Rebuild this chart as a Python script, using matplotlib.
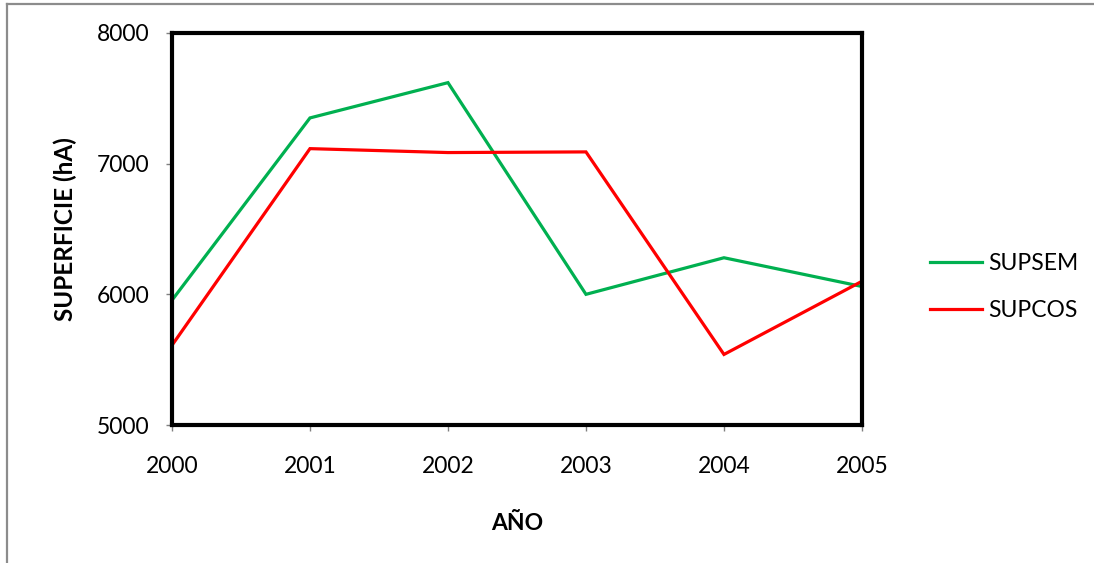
import matplotlib
matplotlib.use("Agg")
import matplotlib.pyplot as plt
from matplotlib.lines import Line2D

# yearly surface values (hA)
years = [2000, 2001, 2002, 2003, 2004, 2005]
supsem = [5955, 7350, 7620, 6000, 6280, 6060]
supcos = [5610, 7115, 7085, 7090, 5540, 6100]
series_names = ["SUPSEM", "SUPCOS"]
y_ticks = [5000, 6000, 7000, 8000]

plt.rcParams["font.family"] = ["Lato", "DejaVu Sans"]

fig = plt.figure(figsize=(10.94, 5.63), dpi=100)
ax = fig.add_axes([0.1572, 0.2451, 0.6307, 0.6963])

ax.plot(years, supsem, color="#00B050", lw=2.3, label=series_names[0],
        solid_joinstyle="miter")
ax.plot(years, supcos, color="#FF0000", lw=2.3, label=series_names[1],
        solid_joinstyle="miter")

ax.set_xlim(2000, 2005)
ax.set_ylim(5000, 8000)
ax.set_xticks(years)
ax.set_yticks(y_ticks)
ax.tick_params(direction="out", length=4, width=1, color="#808080",
               labelsize=16.5, labelcolor="black")
ax.tick_params(axis="x", pad=18)
ax.tick_params(axis="y", pad=12)

for side in ["top", "right", "bottom", "left"]:
    ax.spines[side].set_color("black")
    ax.spines[side].set_linewidth(3)

ax.set_ylabel("SUPERFICIE (hA)", fontsize=17.5, fontweight="bold", labelpad=14)
ax.set_xlabel("AÑO", fontsize=16.5, fontweight="bold", labelpad=26)

ax.legend(loc="center left", bbox_to_anchor=(0.831, 0.490),
          bbox_transform=fig.transFigure, frameon=False, fontsize=16.5,
          handlelength=2.3, handletextpad=0.25, labelspacing=1.11)

# outer chart border (left and top edges visible)
fig.add_artist(Line2D([0.0064, 0.0064], [0.0, 0.993], color="#8c8c8c", lw=1.6))
fig.add_artist(Line2D([0.0064, 1.0], [0.993, 0.993], color="#8c8c8c", lw=1.6))

fig.savefig("out.png", dpi=100, facecolor="white")
